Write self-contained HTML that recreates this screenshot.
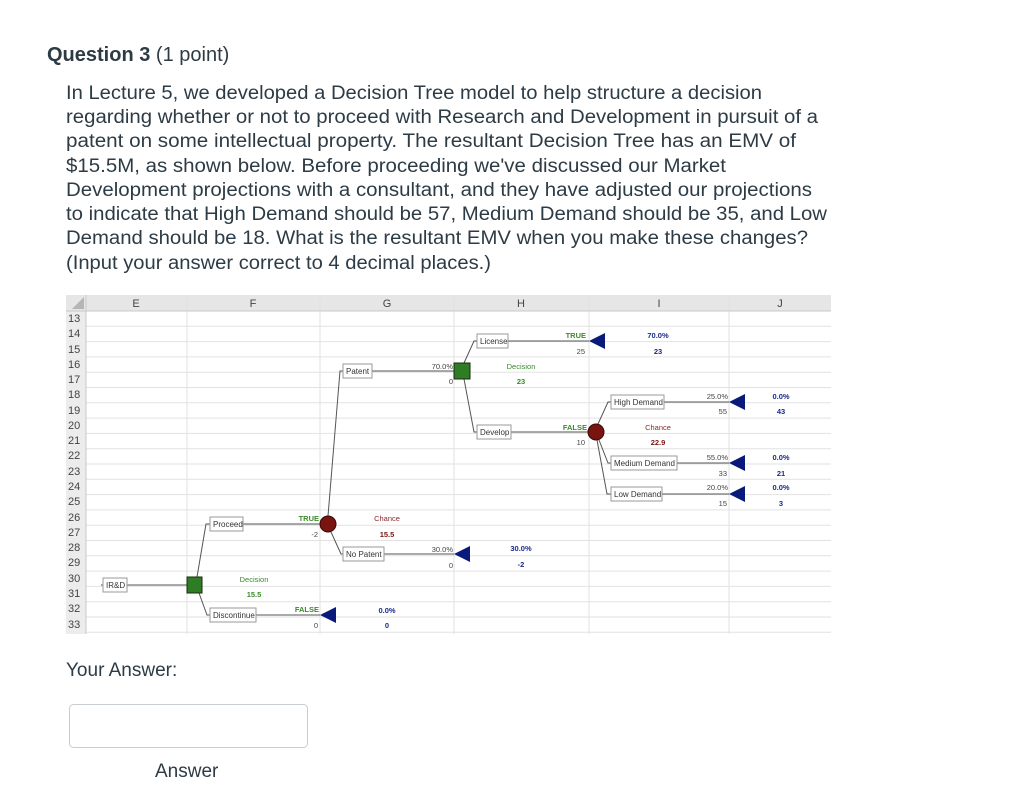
<!DOCTYPE html>
<html><head><meta charset="utf-8"><style>
html,body{margin:0;padding:0;background:#fff;}
svg{display:block;}
</style></head><body>
<svg width="1024" height="794" viewBox="0 0 1024 794" xmlns="http://www.w3.org/2000/svg" font-family="Liberation Sans, sans-serif">
<rect width="1024" height="794" fill="#fff"/>
<text x="47" y="61" font-size="20" fill="#2d3b45"><tspan font-weight="bold">Question 3</tspan> (1 point)</text>
<g font-size="19" fill="#2d3b45">
<text x="66" y="99" textLength="696" lengthAdjust="spacingAndGlyphs">In Lecture 5, we developed a Decision Tree model to help structure a decision</text>
<text x="66" y="123" textLength="752" lengthAdjust="spacingAndGlyphs">regarding whether or not to proceed with Research and Development in pursuit of a</text>
<text x="66" y="147" textLength="730" lengthAdjust="spacingAndGlyphs">patent on some intellectual property.   The resultant Decision Tree has an EMV of</text>
<text x="66" y="172" textLength="660" lengthAdjust="spacingAndGlyphs">$15.5M, as shown below.  Before proceeding we've discussed our Market</text>
<text x="66" y="196" textLength="746" lengthAdjust="spacingAndGlyphs">Development projections with a consultant, and they have adjusted our projections</text>
<text x="66" y="220" textLength="761" lengthAdjust="spacingAndGlyphs">to indicate that High Demand should be 57, Medium Demand should be 35, and Low</text>
<text x="66" y="244" textLength="742" lengthAdjust="spacingAndGlyphs">Demand should be 18.  What is the resultant EMV when you make these changes?</text>
<text x="66" y="269" textLength="425" lengthAdjust="spacingAndGlyphs">(Input your answer correct to 4 decimal places.)</text>
</g>

<!-- spreadsheet -->
<rect x="66" y="295" width="765" height="16" fill="#e6e6e6"/>
<rect x="66" y="311" width="20" height="323" fill="#ececec"/>
<polygon points="84,297 84,309 72,309" fill="#b5b5b5"/>
<g stroke="#e2e2e2" stroke-width="1">
<line x1="86" y1="326.3" x2="831" y2="326.3"/><line x1="86" y1="341.6" x2="831" y2="341.6"/>
<line x1="86" y1="356.9" x2="831" y2="356.9"/><line x1="86" y1="372.2" x2="831" y2="372.2"/>
<line x1="86" y1="387.5" x2="831" y2="387.5"/><line x1="86" y1="402.8" x2="831" y2="402.8"/>
<line x1="86" y1="418.1" x2="831" y2="418.1"/><line x1="86" y1="433.4" x2="831" y2="433.4"/>
<line x1="86" y1="448.7" x2="831" y2="448.7"/><line x1="86" y1="464" x2="831" y2="464"/>
<line x1="86" y1="479.3" x2="831" y2="479.3"/><line x1="86" y1="494.6" x2="831" y2="494.6"/>
<line x1="86" y1="509.9" x2="831" y2="509.9"/><line x1="86" y1="525.2" x2="831" y2="525.2"/>
<line x1="86" y1="540.5" x2="831" y2="540.5"/><line x1="86" y1="555.8" x2="831" y2="555.8"/>
<line x1="86" y1="571.1" x2="831" y2="571.1"/><line x1="86" y1="586.4" x2="831" y2="586.4"/>
<line x1="86" y1="601.7" x2="831" y2="601.7"/><line x1="86" y1="617" x2="831" y2="617"/>
<line x1="86" y1="632.3" x2="831" y2="632.3"/>
<line x1="187" y1="295" x2="187" y2="634"/><line x1="320" y1="295" x2="320" y2="634"/>
<line x1="454" y1="295" x2="454" y2="634"/><line x1="589" y1="295" x2="589" y2="634"/>
<line x1="729" y1="295" x2="729" y2="634"/>
</g>
<line x1="66" y1="311" x2="831" y2="311" stroke="#c8c8c8"/>
<line x1="86" y1="295" x2="86" y2="634" stroke="#c8c8c8"/>
<g font-size="11" fill="#444" text-anchor="middle">
<text x="136" y="307">E</text><text x="253" y="307">F</text><text x="387" y="307">G</text>
<text x="521" y="307">H</text><text x="659" y="307">I</text><text x="780" y="307">J</text>
</g>
<g font-size="11" fill="#444">
<text x="68" y="322">13</text><text x="68" y="337">14</text><text x="68" y="353">15</text>
<text x="68" y="368">16</text><text x="68" y="383">17</text><text x="68" y="398">18</text>
<text x="68" y="414">19</text><text x="68" y="429">20</text><text x="68" y="444">21</text>
<text x="68" y="459">22</text><text x="68" y="475">23</text><text x="68" y="490">24</text>
<text x="68" y="505">25</text><text x="68" y="521">26</text><text x="68" y="536">27</text>
<text x="68" y="551">28</text><text x="68" y="566">29</text><text x="68" y="582">30</text>
<text x="68" y="597">31</text><text x="68" y="612">32</text><text x="68" y="628">33</text>
</g>

<!-- connectors -->
<g stroke="#555" stroke-width="1" fill="none">
<line x1="101" y1="585" x2="187" y2="585"/>
<polyline points="197,577 206,524 210,524"/>
<polyline points="199,593 207,615 210,615"/>
<line x1="243" y1="524" x2="320" y2="524"/>
<line x1="256" y1="615" x2="320" y2="615"/>
<polyline points="328,516 340,371 343,371"/>
<polyline points="331,532 341,554 343,554"/>
<line x1="372" y1="371" x2="454" y2="371"/>
<line x1="384" y1="554" x2="454" y2="554"/>
<polyline points="464,363 474,341 477,341"/>
<polyline points="464,379 474,432 477,432"/>
<line x1="508" y1="341" x2="589" y2="341"/>
<line x1="511" y1="432" x2="589" y2="432"/>
<polyline points="598,424 608,402 611,402"/>
<polyline points="599,440 608,463 611,463"/>
<polyline points="597,440 607,494 611,494"/>
<line x1="664" y1="402" x2="729" y2="402"/>
<line x1="677" y1="463" x2="729" y2="463"/>
<line x1="662" y1="494" x2="729" y2="494"/>
</g>

<!-- boxes -->
<g fill="#fff" stroke="#999" stroke-width="1">
<rect x="103" y="578" width="24" height="14"/>
<rect x="210" y="517" width="33" height="14"/>
<rect x="210" y="608" width="46" height="14"/>
<rect x="343" y="364" width="29" height="14"/>
<rect x="343" y="547" width="41" height="14"/>
<rect x="477" y="334" width="31" height="14"/>
<rect x="477" y="425" width="34" height="14"/>
<rect x="611" y="395" width="53" height="14"/>
<rect x="611" y="456" width="66" height="14"/>
<rect x="611" y="487" width="51" height="14"/>
</g>
<g font-size="8" fill="#333">
<text x="106" y="588">IR&amp;D</text>
<text x="213" y="527">Proceed</text>
<text x="213" y="618">Discontinue</text>
<text x="346" y="374">Patent</text>
<text x="346" y="557">No Patent</text>
<text x="480" y="344">License</text>
<text x="480" y="435">Develop</text>
<text x="614" y="405">High Demand</text>
<text x="614" y="466">Medium Demand</text>
<text x="614" y="497">Low Demand</text>
</g>

<!-- nodes -->
<g fill="#2e7d24" stroke="#1a2a12" stroke-width="1">
<rect x="187" y="577" width="15" height="16"/>
<rect x="454" y="363" width="16" height="16"/>
</g>
<g fill="#7a1410" stroke="#3a0a08" stroke-width="1">
<circle cx="328" cy="524" r="8"/>
<circle cx="596" cy="432" r="8"/>
</g>
<g fill="#0a1a7a">
<polygon points="320,615 336,607 336,623"/>
<polygon points="454,554 470,546 470,562"/>
<polygon points="589,341 605,333 605,349"/>
<polygon points="729,402 745,394 745,410"/>
<polygon points="729,463 745,455 745,471"/>
<polygon points="729,494 745,486 745,502"/>
</g>

<!-- labels -->
<g font-size="7.5" text-anchor="middle">
<text x="254" y="582" fill="#3a8a2a">Decision</text>
<text x="254" y="597" fill="#3a8a2a" font-weight="bold">15.5</text>
<text x="387" y="521" fill="#8a2a2a">Chance</text>
<text x="387" y="537" fill="#7a1410" font-weight="bold">15.5</text>
<text x="387" y="613" fill="#1a2a8a" font-weight="bold">0.0%</text>
<text x="387" y="628" fill="#1a2a8a" font-weight="bold">0</text>
<text x="521" y="369" fill="#3a8a2a">Decision</text>
<text x="521" y="384" fill="#3a8a2a" font-weight="bold">23</text>
<text x="521" y="551" fill="#1a2a8a" font-weight="bold">30.0%</text>
<text x="521" y="567" fill="#1a2a8a" font-weight="bold">-2</text>
<text x="658" y="338" fill="#1a2a8a" font-weight="bold">70.0%</text>
<text x="658" y="354" fill="#1a2a8a" font-weight="bold">23</text>
<text x="658" y="430" fill="#8a2a2a">Chance</text>
<text x="658" y="445" fill="#7a1410" font-weight="bold">22.9</text>
<text x="781" y="399" fill="#1a2a8a" font-weight="bold">0.0%</text>
<text x="781" y="414" fill="#1a2a8a" font-weight="bold">43</text>
<text x="781" y="460" fill="#1a2a8a" font-weight="bold">0.0%</text>
<text x="781" y="476" fill="#1a2a8a" font-weight="bold">21</text>
<text x="781" y="490" fill="#1a2a8a" font-weight="bold">0.0%</text>
<text x="781" y="506" fill="#1a2a8a" font-weight="bold">3</text>
</g>
<g font-size="7.5" text-anchor="end">
<text x="319" y="521" fill="#3a8a2a" font-weight="bold">TRUE</text>
<text x="318" y="537" fill="#444">-2</text>
<text x="319" y="612" fill="#3a8a2a" font-weight="bold">FALSE</text>
<text x="318" y="628" fill="#444">0</text>
<text x="453" y="369" fill="#444">70.0%</text>
<text x="453" y="384" fill="#444">0</text>
<text x="453" y="552" fill="#444">30.0%</text>
<text x="453" y="568" fill="#444">0</text>
<text x="586" y="338" fill="#3a8a2a" font-weight="bold">TRUE</text>
<text x="585" y="354" fill="#444">25</text>
<text x="587" y="430" fill="#3a8a2a" font-weight="bold">FALSE</text>
<text x="585" y="445" fill="#444">10</text>
<text x="728" y="399" fill="#444">25.0%</text>
<text x="727" y="414" fill="#444">55</text>
<text x="728" y="460" fill="#444">55.0%</text>
<text x="727" y="476" fill="#444">33</text>
<text x="728" y="490" fill="#444">20.0%</text>
<text x="727" y="506" fill="#444">15</text>
</g>

<text x="66" y="676" font-size="19" fill="#2d3b45">Your Answer:</text>
<rect x="69.5" y="704.5" width="238" height="43" rx="4" fill="#fff" stroke="#c7cdd1"/>
<text x="155" y="777" font-size="19" fill="#2d3b45">Answer</text>
</svg>
</body></html>
